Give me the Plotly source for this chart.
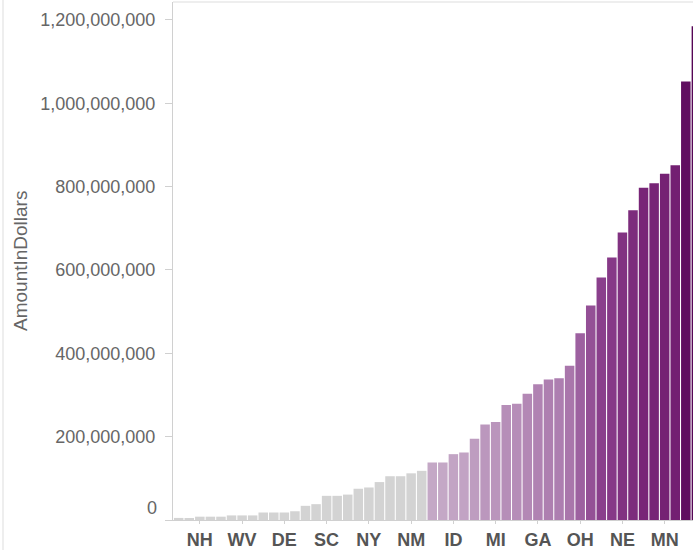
import plotly.graph_objects as go

# States sorted by amount, ascending
states = [
    "VT", "ME", "NH", "RI", "WY", "AK", "WV", "HI", "MT", "CT",
    "DE", "NV", "ND", "MA", "SC", "UT", "MD", "NJ", "NY", "KY",
    "OR", "AZ", "NM", "DC", "LA", "TN", "ID", "AL", "VA", "PA",
    "MI", "MS", "CO", "WA", "GA", "NC", "FL", "OK", "OH", "WI",
    "MO", "IN", "NE", "AR", "SD", "KS", "MN", "TX", "IL", "IA",
]

# Amount per state, in millions of dollars
amount_millions = [
    5, 4, 8, 8, 8, 11, 11, 11, 18, 18,
    18, 21, 34, 38, 58, 58, 61, 75, 78, 91,
    105, 105, 112, 118, 138, 138, 158, 162, 195, 229,
    235, 276, 279, 303, 326, 337, 340, 370, 448, 515,
    582, 630, 690, 743, 797, 808, 831, 851, 1052, 1185,
]

# States whose abbreviations label the x axis
labeled_states = ["NH", "WV", "DE", "SC", "NY", "NM", "ID", "MI", "GA", "OH", "NE", "MN"]

# Y axis ticks (the zero label is drawn separately, nudged above the baseline)
y_ticks = [0, 200e6, 400e6, 600e6, 800e6, 1000e6, 1200e6]
y_tick_text = ["", "200,000,000", "400,000,000", "600,000,000",
               "800,000,000", "1,000,000,000", "1,200,000,000"]

amounts = [v * 1e6 for v in amount_millions]
vmax = max(amounts)

# Small amounts stay grey, the rest shade from light to deep purple
colorscale = [
    [0.0, "#d3d3d3"],
    [0.104, "#d3d3d3"],
    [0.110, "#c5a9c7"],
    [0.25, "#b48ab6"],
    [0.38, "#9d60a0"],
    [0.49, "#8a3f8c"],
    [0.68, "#772476"],
    [0.88, "#610f61"],
    [1.0, "#560656"],
]

fig = go.Figure(
    go.Bar(
        x=states,
        y=amounts,
        marker=dict(
            color=amounts,
            colorscale=colorscale,
            cmin=0,
            cmax=vmax,
            line=dict(width=0),
        ),
        hovertemplate="%{x}: %{y:,.0f}<extra></extra>",
    )
)

font_family = "Liberation Sans, Arial, Helvetica, sans-serif"

fig.update_layout(
    width=693,
    height=550,
    margin=dict(l=173, r=0, t=2, b=30),
    paper_bgcolor="white",
    plot_bgcolor="white",
    bargap=0.1,
    showlegend=False,
    font=dict(family=font_family, color="#666666"),
    xaxis=dict(
        type="category",
        range=[-0.54, 48.68],
        tickmode="array",
        tickvals=labeled_states,
        ticktext=labeled_states,
        tickfont=dict(size=18, color="#555555", family=font_family, weight="bold"),
        ticks="outside",
        ticklen=3,
        tickcolor="#d0d0d0",
        showline=True,
        linecolor="#d0d0d0",
        linewidth=1,
        showgrid=False,
        fixedrange=True,
    ),
    yaxis=dict(
        range=[0, 1243e6],
        tickmode="array",
        tickvals=y_ticks,
        ticktext=y_tick_text,
        tickfont=dict(size=18, color="#666666", family=font_family),
        ticks="outside",
        ticklen=7,
        tickcolor="#d0d0d0",
        ticklabelstandoff=6,
        showline=True,
        linecolor="#d0d0d0",
        linewidth=1,
        showgrid=False,
        zeroline=False,
        fixedrange=True,
    ),
    shapes=[
        # top border of the plot area
        dict(type="line", xref="paper", yref="paper", x0=0, x1=1, y0=1, y1=1,
             line=dict(color="#dddddd", width=1)),
        # left border of the view
        dict(type="line", xref="paper", yref="paper",
             x0=-170 / 520, x1=-170 / 520, y0=-30 / 518, y1=1 + 2 / 518,
             line=dict(color="#dddddd", width=1)),
    ],
    annotations=[
        dict(
            text="AmountInDollars",
            xref="paper", yref="paper",
            x=(20 - 173) / 520, y=0.5,
            textangle=-90,
            showarrow=False,
            font=dict(size=19, color="#666666", family=font_family),
            xanchor="center", yanchor="middle",
        ),
        dict(
            text="0",
            xref="paper", yref="y",
            x=(159 - 173) / 520, y=0,
            xanchor="right", yanchor="middle",
            yshift=12,
            showarrow=False,
            font=dict(size=18, color="#666666", family=font_family),
        ),
    ],
)

fig.write_html("out.html")
